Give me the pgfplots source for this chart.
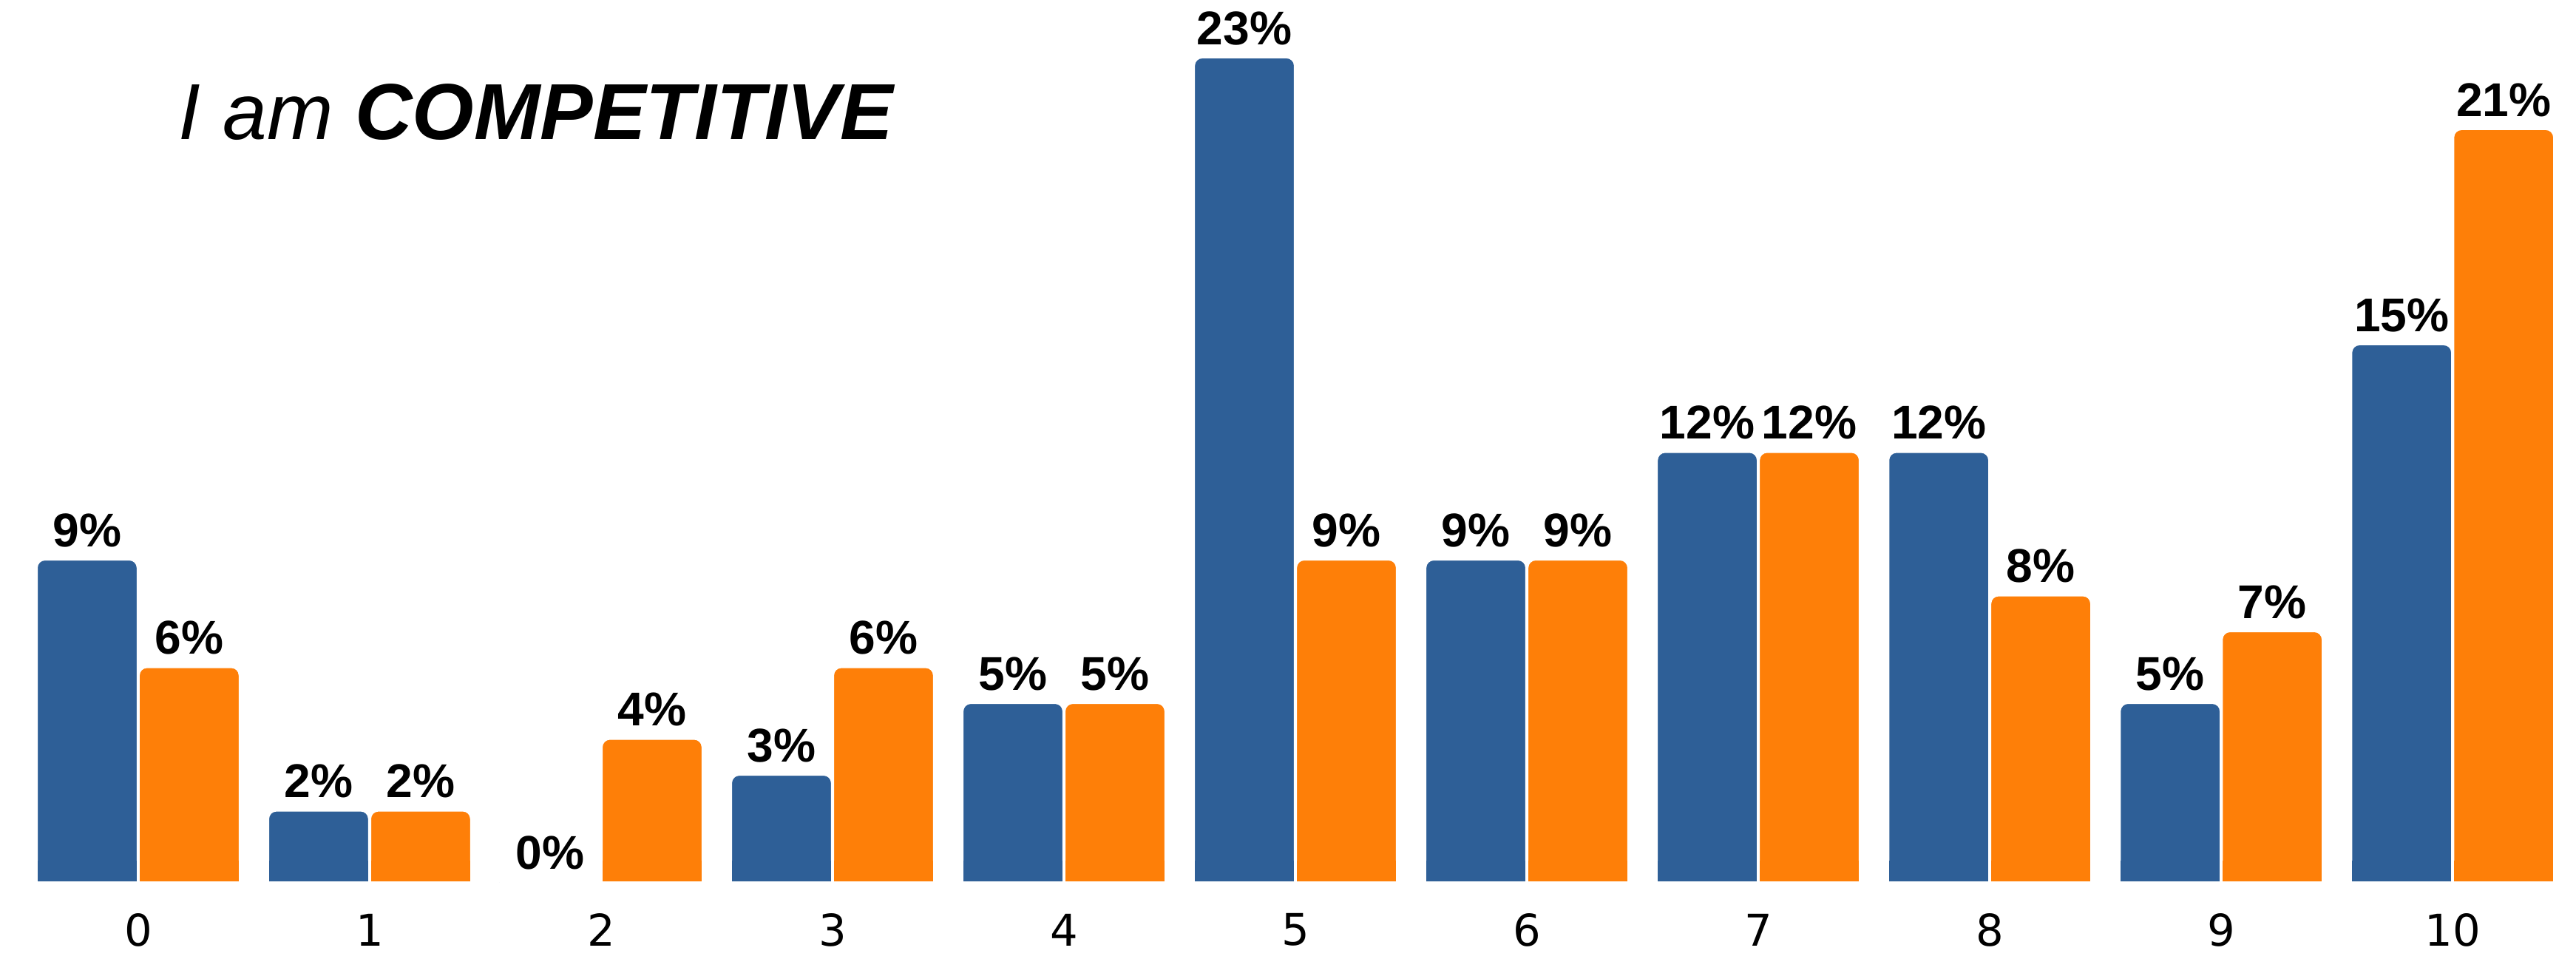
\documentclass[border=0pt]{standalone}
\usepackage{fontspec}
\setmainfont{Liberation Sans}
\newfontfamily\tickfont{DejaVu Sans}
\usepackage{pgfplots}
\pgfplotsset{compat=1.18}
\definecolor{cblue}{HTML}{2E5F97}
\definecolor{corange}{HTML}{FE7F08}
\pgfplotstableread{
x blue orange
0 9 6
1 2 2
2 0 4
3 3 6
4 5 5
5 23 9
6 9 9
7 12 12
8 12 8
9 5 7
10 15 21
}\datatable
\begin{document}
\begin{tikzpicture}
\begin{axis}[
  scale only axis, width=500pt, height=186pt,
  xmin=-0.597, xmax=10.533, ymin=-2.12, ymax=24.6,
  /pgf/number format/assume math mode=true,
  axis line style={draw=none}, tick style={draw=none},
  ytick=\empty, xtick={0,...,10},
  xticklabel style={font=\tickfont\fontsize{8.5}{10}\selectfont, anchor=center, yshift=9.8pt},
  ybar, bar width=19.6pt,
  every node near coord/.append style={font=\bfseries\fontsize{9.2}{11}\selectfont, anchor=south, inner sep=1pt, yshift=1.2pt},
  clip=false,
]
\addplot[fill=cblue, draw=white, line width=0.4pt, bar shift=-9.9pt, rounded corners=1.6pt,
  nodes near coords={\pgfmathprintnumber{\pgfplotspointmeta}\%}] table[x=x, y=blue] {\datatable};
\addplot[fill=corange, draw=white, line width=0.4pt, bar shift=9.9pt, rounded corners=1.6pt,
  nodes near coords={\pgfmathprintnumber{\pgfplotspointmeta}\%}] table[x=x, y=orange] {\datatable};
\begin{scope}
\clip (axis cs:-1,0) rectangle (axis cs:11,0.6);
\addplot[fill=cblue, draw=white, line width=0.4pt, bar shift=-9.9pt, forget plot] table[x=x, y=blue] {\datatable};
\addplot[fill=corange, draw=white, line width=0.4pt, bar shift=9.9pt, forget plot] table[x=x, y=orange] {\datatable};
\end{scope}
\node[anchor=west, inner sep=0pt, font=\fontsize{15.4}{18}\selectfont] at (rel axis cs:0.069,0.883) {\itshape I am \bfseries COMPETITIVE};
\coordinate (bl) at (rel axis cs:0,0);
\coordinate (tr) at (rel axis cs:1,1);
\end{axis}
\pgfresetboundingbox
\path[use as bounding box] (bl) rectangle (tr);
\end{tikzpicture}
\end{document}
